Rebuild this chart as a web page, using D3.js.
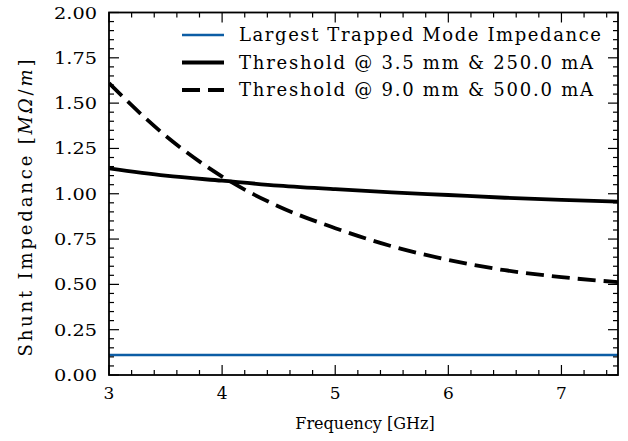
<!DOCTYPE html>
<html>
<head>
<meta charset="utf-8">
<script src="https://cdn.jsdelivr.net/npm/d3@7"></script>
<style>
  body { margin: 0; background: #fff; }
  svg text { font-family: "DejaVu Serif", serif; fill: #000; }
</style>
</head>
<body>
<div id="chart"></div>
<script>
// data
let freq = [3.0, 3.5, 4.0, 4.5, 5.0, 5.5, 6.0, 6.5, 7.0, 7.5];
let threshSmall = [1.14, 1.10, 1.072, 1.045, 1.025, 1.008, 0.993, 0.978, 0.966, 0.956];
let threshLarge = [1.61, 1.32, 1.095, 0.93, 0.81, 0.71, 0.635, 0.578, 0.54, 0.512];
let trappedMode = [0.11, 0.11];
let trappedFreq = [3.0, 7.5];
let xTicks = [3, 4, 5, 6, 7];
let yTicks = [0, 0.25, 0.5, 0.75, 1.0, 1.25, 1.5, 1.75, 2.0];
let legendLabels = [
  'Largest Trapped Mode Impedance',
  'Threshold @ 3.5 mm & 250.0 mA',
  'Threshold @ 9.0 mm & 500.0 mA'
];

let width = 628,
    height = 441,
    margin = {top: 12.5, left: 109, right: 10, bottom: 66},
    blue = '#0C5DA5';

let svg = d3.select('#chart').append('svg')
    .attr('width', width)
    .attr('height', height);

let x = d3.scaleLinear().domain([3, 7.5]).range([margin.left, width - margin.right]);
let y = d3.scaleLinear().domain([0, 2]).range([height - margin.bottom, margin.top]);

let x0 = x.range()[0], x1 = x.range()[1], y0 = y.range()[0], y1 = y.range()[1];

// curves, clipped to the frame
svg.append('clipPath').attr('id', 'clip')
    .append('rect').attr('x', x0).attr('y', y1).attr('width', x1 - x0).attr('height', y0 - y1);

let plot = svg.append('g').attr('clip-path', 'url(#clip)');
let line = d3.line().x(d => x(d[0])).y(d => y(d[1])).curve(d3.curveMonotoneX);

plot.append('path')
    .attr('d', line(d3.zip(trappedFreq, trappedMode)))
    .attr('fill', 'none').attr('stroke', blue).attr('stroke-width', 2.6);

plot.append('path')
    .attr('d', line(d3.zip(freq, threshSmall)))
    .attr('fill', 'none').attr('stroke', '#000').attr('stroke-width', 3.8);

plot.append('path')
    .attr('d', line(d3.zip(freq, threshLarge)))
    .attr('fill', 'none').attr('stroke', '#000').attr('stroke-width', 3.8)
    .attr('stroke-dasharray', '18,8');

// ticks on all four sides, pointing in
let xMinor = d3.range(3, 7.5001, 0.2).filter(v => !xTicks.some(t => Math.abs(t - v) < 1e-6));
let yMinor = d3.range(0, 2.0001, 0.05).filter(v => !yTicks.some(t => Math.abs(t - v) < 1e-6));

let ticks = svg.append('g').attr('stroke', '#000').attr('stroke-width', 1.2);

function vTicks(vals, len) {
  vals.forEach(v => {
    ticks.append('line').attr('x1', x(v)).attr('x2', x(v)).attr('y1', y0).attr('y2', y0 - len);
    ticks.append('line').attr('x1', x(v)).attr('x2', x(v)).attr('y1', y1).attr('y2', y1 + len);
  });
}
function hTicks(vals, len) {
  vals.forEach(v => {
    ticks.append('line').attr('y1', y(v)).attr('y2', y(v)).attr('x1', x0).attr('x2', x0 + len);
    ticks.append('line').attr('y1', y(v)).attr('y2', y(v)).attr('x1', x1).attr('x2', x1 - len);
  });
}
vTicks(xTicks, 10);
vTicks(xMinor, 5);
hTicks(yTicks, 10);
hTicks(yMinor, 5);

// frame
svg.append('rect')
    .attr('x', x0).attr('y', y1).attr('width', x1 - x0).attr('height', y0 - y1)
    .attr('fill', 'none').attr('stroke', '#000').attr('stroke-width', 1.8);

// tick labels
svg.append('g').selectAll('text')
    .data(xTicks).enter().append('text')
    .attr('x', d => x(d)).attr('y', y0 + 24)
    .attr('text-anchor', 'middle')
    .style('font-size', '17px')
    .text(d => d);

svg.append('g').selectAll('text')
    .data(yTicks).enter().append('text')
    .attr('x', x0 - 12).attr('y', d => y(d) + 6)
    .attr('text-anchor', 'end')
    .attr('textLength', 43)
    .attr('lengthAdjust', 'spacingAndGlyphs')
    .style('font-size', '17px')
    .text(d => d.toFixed(2));

// axis titles
svg.append('text')
    .attr('x', 365).attr('y', 429)
    .attr('text-anchor', 'middle')
    .style('font-size', '16px')
    .text('Frequency [GHz]');

let yl = svg.append('text')
    .attr('transform', `translate(32, 208) rotate(-90)`)
    .attr('text-anchor', 'middle')
    .attr('textLength', 297)
    .attr('lengthAdjust', 'spacing')
    .style('font-size', '18px');
yl.append('tspan').text('Shunt Impedance [');
yl.append('tspan').style('font-style', 'italic').text('MΩ');
yl.append('tspan').text('/');
yl.append('tspan').style('font-style', 'italic').text('m');
yl.append('tspan').text(']');

// legend
let legend = svg.append('g');
let legendStyles = [
  {color: blue, w: 2.6, dash: null, len: 362},
  {color: '#000', w: 3.8, dash: null, len: 354},
  {color: '#000', w: 3.8, dash: '18,8', len: 354}
];
legendLabels.forEach((label, i) => {
  let ly = 35 + i * 27.5;
  legend.append('line')
      .attr('x1', 182).attr('x2', 224).attr('y1', ly).attr('y2', ly)
      .attr('stroke', legendStyles[i].color)
      .attr('stroke-width', legendStyles[i].w)
      .attr('stroke-dasharray', legendStyles[i].dash);
  legend.append('text')
      .attr('x', 239).attr('y', ly + 6)
      .attr('textLength', legendStyles[i].len)
      .attr('lengthAdjust', 'spacing')
      .style('font-size', '18px')
      .text(label);
});
</script>
</body>
</html>
